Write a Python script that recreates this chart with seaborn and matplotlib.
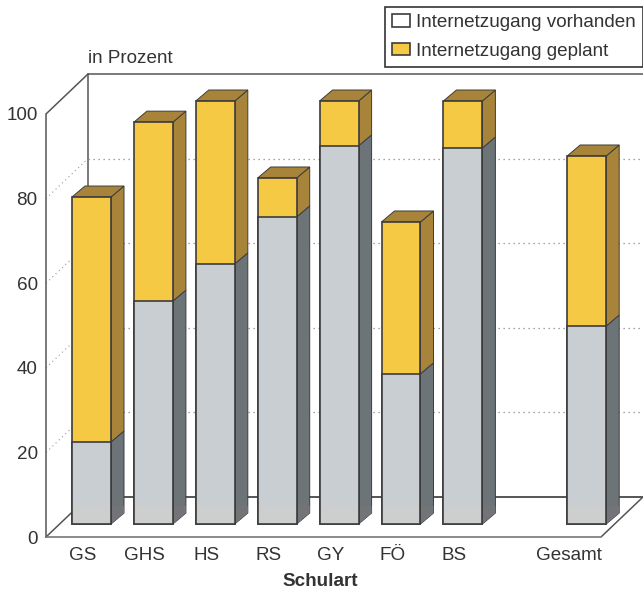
import matplotlib
matplotlib.use("Agg")
import matplotlib.pyplot as plt
from matplotlib.patches import Patch
import pandas as pd
import seaborn as sns

categories = ["GS", "GHS", "HS", "RS", "GY", "FÖ", "BS", "Gesamt"]
vorhanden = [19.4, 52.7, 61.5, 72.6, 89.4, 35.5, 88.9, 46.8]
geplant = [57.9, 42.3, 38.5, 9.2, 10.6, 35.9, 11.1, 40.2]
yticks = [0, 20, 40, 60, 80, 100]
order = categories[:7] + [" "] + categories[7:]

YELLOW, YELLOW_DARK = "#F6C945", "#A8843A"
GREY, GREY_DARK, GREY_LOW = "#C8CED2", "#6C7478", "#CDCFCF"
GREY_DARK_LOW = "#727478"
EDGE, TEXT, LINE = "#3C3C3C", "#333333", "#555555"

W, H = 643, 596
PX_X, PX_Y = 61.9, 4.23          # pixels per category / per percent
BAR_W = 39 / PX_X
FLOOR = 13 / PX_Y                # bars stand this far in from the front edge
BAND = 18 / PX_Y                 # lighter band at the foot of each bar
BAR_DX, BAR_DY = 13 / PX_X, 11 / PX_Y
WALL_DX, WALL_DY = 42 / PX_X, 40 / PX_Y
FS = 13.6

sns.set_theme(style="white")
plt.rcParams["font.family"] = ["Liberation Sans", "DejaVu Sans"]

fig = plt.figure(figsize=(W / 100, H / 100), dpi=100)
ax = fig.add_axes([46 / W, 59 / H, (W - 46) / W, (H - 59) / H])
x_left = (46 - 91.5) / PX_X
x_right = (W - 91.5) / PX_X
y_top = 537 / PX_Y

df = pd.DataFrame({"Schulart": categories, "vorhanden": vorhanden, "geplant": geplant})
df["gesamt"] = df["vorhanden"] + df["geplant"]
df["band"] = BAND
pos = [order.index(c) for c in categories]

# wall and floor frame
back_x = x_left + WALL_DX
ax.plot([x_left, back_x], [0, WALL_DY], color=LINE, lw=1.1, zorder=1, clip_on=False)
ax.plot([x_left, back_x], [100, 100 + WALL_DY], color=LINE, lw=1.1, zorder=1)
ax.plot([back_x, back_x], [WALL_DY, 100 + WALL_DY], color=LINE, lw=1.1, zorder=1)
ax.plot([back_x, x_right], [100 + WALL_DY] * 2, color=LINE, lw=1.1, zorder=1)
ax.plot([back_x, x_right], [WALL_DY] * 2, color=LINE, lw=1.4, zorder=1)
ax.plot([x_right - WALL_DX, x_right], [0, WALL_DY], color=LINE, lw=1.1, zorder=1)
for v in yticks[1:-1]:
    ax.plot([x_left, back_x], [v, v + WALL_DY], color="#999999", lw=0.8, ls=(0, (1, 3)), zorder=1)
    ax.plot([back_x, x_right], [v + WALL_DY] * 2, color="#888888", lw=0.9, ls=(0, (1, 3)), zorder=1)

# 3D sides and tops
for p, low, high in zip(pos, df["vorhanden"], df["gesamt"]):
    xr = p + BAR_W / 2
    xl = p - BAR_W / 2
    b, m, t = FLOOR, FLOOR + low, FLOOR + high
    ax.fill([xr, xr + BAR_DX, xr + BAR_DX, xr], [b, b + BAR_DY, m + BAR_DY, m],
            facecolor=GREY_DARK, edgecolor=EDGE, lw=0.7, zorder=2)
    ax.fill([xr, xr + BAR_DX, xr + BAR_DX, xr], [b, b + BAR_DY, b + BAND, b + BAND],
            facecolor=GREY_DARK_LOW, edgecolor="none", zorder=2.5)
    ax.fill([xr, xr + BAR_DX, xr + BAR_DX, xr], [m, m + BAR_DY, t + BAR_DY, t],
            facecolor=YELLOW_DARK, edgecolor=EDGE, lw=0.7, zorder=2)
    ax.fill([xl, xl + BAR_DX, xr + BAR_DX, xr], [t, t + BAR_DY, t + BAR_DY, t],
            facecolor=YELLOW_DARK, edgecolor=EDGE, lw=0.7, zorder=2)

# front faces
sns.barplot(data=df, x="Schulart", y="gesamt", order=order, color=YELLOW, saturation=1,
            width=BAR_W, bottom=FLOOR, edgecolor=EDGE, linewidth=1.2, zorder=3, ax=ax)
sns.barplot(data=df, x="Schulart", y="vorhanden", order=order, color=GREY, saturation=1,
            width=BAR_W, bottom=FLOOR, edgecolor="none", linewidth=0, zorder=4, ax=ax)
sns.barplot(data=df, x="Schulart", y="band", order=order, color=GREY_LOW, saturation=1,
            width=BAR_W, bottom=FLOOR, edgecolor="none", linewidth=0, zorder=4.5, ax=ax)
sns.barplot(data=df, x="Schulart", y="vorhanden", order=order, color=EDGE, saturation=1,
            width=BAR_W, bottom=FLOOR, fill=False, linewidth=1.2, zorder=5, ax=ax)
ax.set_xlim(x_left, x_right)
ax.set_ylim(0, y_top)

for s in ["top", "right"]:
    ax.spines[s].set_visible(False)
ax.spines["left"].set_bounds(0, 100)
ax.spines["left"].set_color(LINE)
ax.spines["left"].set_linewidth(1.1)
ax.spines["bottom"].set_bounds(x_left, x_right - WALL_DX)
ax.spines["bottom"].set_color("#777777")
ax.spines["bottom"].set_linewidth(1.2)

label_shift = [-0.14] * 7 + [-0.28]
ax.set_xticks([p + s for p, s in zip(pos, label_shift)], categories)
ax.set_yticks(yticks, [str(v) for v in yticks])
ax.tick_params(axis="x", length=0, pad=7, labelsize=FS, labelcolor=TEXT)
ax.tick_params(axis="y", length=0, pad=6, labelsize=FS, labelcolor=TEXT)
ax.set_xlabel("Schulart", fontsize=13.6, fontweight="bold", color=TEXT)
ax.xaxis.set_label_coords((320 - 46) / (W - 46), -36 / (H - 59))
ax.set_ylabel("")
ax.text(back_x, 100 + WALL_DY + 15 / PX_Y, "in Prozent", fontsize=FS, color=TEXT,
        ha="left", va="center")

handles = [Patch(facecolor="white", edgecolor=EDGE, lw=1.2, label="Internetzugang vorhanden"),
           Patch(facecolor=YELLOW, edgecolor=EDGE, lw=1.2, label="Internetzugang geplant")]
leg = ax.legend(handles=handles, loc="upper right", bbox_to_anchor=(1.0, 1 - 7 / (H - 59)),
                borderaxespad=0, fontsize=FS, fancybox=False, frameon=True,
                edgecolor="#333333", framealpha=1, labelcolor=TEXT, handlelength=0.95,
                handleheight=0.62, handletextpad=0.3, borderpad=0.38, labelspacing=0.6)
leg.get_frame().set_linewidth(1.2)
leg.set_zorder(6)

fig.savefig("out.png", dpi=100)
